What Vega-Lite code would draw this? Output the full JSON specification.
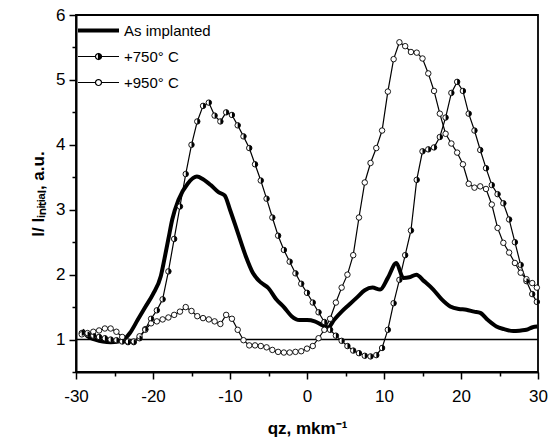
{
  "$schema": "https://vega.github.io/schema/vega-lite/v6.json",
  "width": 462,
  "height": 357,
  "autosize": "none",
  "padding": {"left": 76, "top": 15, "right": 13, "bottom": 69},
  "background": "white",
  "config": {
    "view": {"stroke": "black", "strokeWidth": 1.8},
    "font": "Liberation Sans",
    "axis": {"grid": false, "domainColor": "black", "domainWidth": 2, "tickColor": "black", "tickWidth": 1.5, "labelColor": "black", "labelFont": "Liberation Sans", "labelFontSize": 17, "labelFontWeight": "normal", "titleFont": "Liberation Sans", "titleFontSize": 17, "titleFontWeight": "bold", "titleColor": "black"}
  },
  "data": {"values": [
    {"series": "As implanted", "q": -29.2, "I": 1.15},
    {"series": "As implanted", "q": -28.5, "I": 1.05},
    {"series": "As implanted", "q": -27.5, "I": 1.00},
    {"series": "As implanted", "q": -26.5, "I": 0.97},
    {"series": "As implanted", "q": -25.5, "I": 0.96},
    {"series": "As implanted", "q": -24.5, "I": 0.97},
    {"series": "As implanted", "q": -23.5, "I": 1.03},
    {"series": "As implanted", "q": -23, "I": 1.10},
    {"series": "As implanted", "q": -22, "I": 1.30},
    {"series": "As implanted", "q": -21, "I": 1.50},
    {"series": "As implanted", "q": -20, "I": 1.70},
    {"series": "As implanted", "q": -19, "I": 1.97},
    {"series": "As implanted", "q": -18.5, "I": 2.25},
    {"series": "As implanted", "q": -18, "I": 2.55},
    {"series": "As implanted", "q": -17.5, "I": 2.85},
    {"series": "As implanted", "q": -16.7, "I": 3.15},
    {"series": "As implanted", "q": -15.5, "I": 3.40},
    {"series": "As implanted", "q": -14.3, "I": 3.51},
    {"series": "As implanted", "q": -13.5, "I": 3.47},
    {"series": "As implanted", "q": -12.5, "I": 3.38},
    {"series": "As implanted", "q": -11.5, "I": 3.27},
    {"series": "As implanted", "q": -10.7, "I": 3.22},
    {"series": "As implanted", "q": -10, "I": 3.00},
    {"series": "As implanted", "q": -9, "I": 2.65},
    {"series": "As implanted", "q": -8, "I": 2.30},
    {"series": "As implanted", "q": -7, "I": 2.02},
    {"series": "As implanted", "q": -6, "I": 1.88},
    {"series": "As implanted", "q": -5, "I": 1.79},
    {"series": "As implanted", "q": -4, "I": 1.62},
    {"series": "As implanted", "q": -3, "I": 1.50},
    {"series": "As implanted", "q": -2, "I": 1.36},
    {"series": "As implanted", "q": -1, "I": 1.30},
    {"series": "As implanted", "q": 0, "I": 1.30},
    {"series": "As implanted", "q": 1, "I": 1.28},
    {"series": "As implanted", "q": 2, "I": 1.22},
    {"series": "As implanted", "q": 2.7, "I": 1.18},
    {"series": "As implanted", "q": 3.5, "I": 1.30},
    {"series": "As implanted", "q": 4.5, "I": 1.43},
    {"series": "As implanted", "q": 5.5, "I": 1.54},
    {"series": "As implanted", "q": 6.5, "I": 1.65},
    {"series": "As implanted", "q": 7.5, "I": 1.76},
    {"series": "As implanted", "q": 8.5, "I": 1.80},
    {"series": "As implanted", "q": 9.5, "I": 1.77},
    {"series": "As implanted", "q": 10.5, "I": 1.95},
    {"series": "As implanted", "q": 11.6, "I": 2.18},
    {"series": "As implanted", "q": 12.5, "I": 1.95},
    {"series": "As implanted", "q": 13.3, "I": 1.96},
    {"series": "As implanted", "q": 14.2, "I": 2.00},
    {"series": "As implanted", "q": 15.2, "I": 1.90},
    {"series": "As implanted", "q": 16.4, "I": 1.77},
    {"series": "As implanted", "q": 17.5, "I": 1.62},
    {"series": "As implanted", "q": 18.6, "I": 1.51},
    {"series": "As implanted", "q": 19.7, "I": 1.47},
    {"series": "As implanted", "q": 20.7, "I": 1.46},
    {"series": "As implanted", "q": 21.7, "I": 1.43},
    {"series": "As implanted", "q": 22.5, "I": 1.41},
    {"series": "As implanted", "q": 23.5, "I": 1.30},
    {"series": "As implanted", "q": 24.6, "I": 1.20},
    {"series": "As implanted", "q": 25.6, "I": 1.16},
    {"series": "As implanted", "q": 26.8, "I": 1.13},
    {"series": "As implanted", "q": 27.8, "I": 1.14},
    {"series": "As implanted", "q": 28.5, "I": 1.15},
    {"series": "As implanted", "q": 29.3, "I": 1.19},
    {"series": "As implanted", "q": 29.9, "I": 1.20},

    {"series": "+750° C", "q": -29.25, "I": 1.10},
    {"series": "+750° C", "q": -28.5, "I": 1.08},
    {"series": "+750° C", "q": -27.75, "I": 1.06},
    {"series": "+750° C", "q": -27.0, "I": 1.04},
    {"series": "+750° C", "q": -26.25, "I": 1.02},
    {"series": "+750° C", "q": -25.5, "I": 1.00},
    {"series": "+750° C", "q": -24.75, "I": 0.99},
    {"series": "+750° C", "q": -24.0, "I": 0.97},
    {"series": "+750° C", "q": -23.25, "I": 0.96},
    {"series": "+750° C", "q": -22.5, "I": 0.96},
    {"series": "+750° C", "q": -21.75, "I": 1.02},
    {"series": "+750° C", "q": -21.0, "I": 1.16},
    {"series": "+750° C", "q": -20.25, "I": 1.32},
    {"series": "+750° C", "q": -19.5, "I": 1.45},
    {"series": "+750° C", "q": -18.75, "I": 1.62},
    {"series": "+750° C", "q": -18.0, "I": 2.05},
    {"series": "+750° C", "q": -17.25, "I": 2.55},
    {"series": "+750° C", "q": -16.5, "I": 3.05},
    {"series": "+750° C", "q": -15.75, "I": 3.55},
    {"series": "+750° C", "q": -15.0, "I": 4.00},
    {"series": "+750° C", "q": -14.25, "I": 4.36},
    {"series": "+750° C", "q": -13.5, "I": 4.60},
    {"series": "+750° C", "q": -12.75, "I": 4.65},
    {"series": "+750° C", "q": -12.0, "I": 4.45},
    {"series": "+750° C", "q": -11.25, "I": 4.36},
    {"series": "+750° C", "q": -10.5, "I": 4.50},
    {"series": "+750° C", "q": -9.75, "I": 4.46},
    {"series": "+750° C", "q": -9.0, "I": 4.30},
    {"series": "+750° C", "q": -8.25, "I": 4.13},
    {"series": "+750° C", "q": -7.5, "I": 3.95},
    {"series": "+750° C", "q": -6.75, "I": 3.70},
    {"series": "+750° C", "q": -6.0, "I": 3.45},
    {"series": "+750° C", "q": -5.25, "I": 3.17},
    {"series": "+750° C", "q": -4.5, "I": 2.88},
    {"series": "+750° C", "q": -3.75, "I": 2.60},
    {"series": "+750° C", "q": -3.0, "I": 2.38},
    {"series": "+750° C", "q": -2.25, "I": 2.20},
    {"series": "+750° C", "q": -1.5, "I": 2.02},
    {"series": "+750° C", "q": -0.75, "I": 1.86},
    {"series": "+750° C", "q": 0.0, "I": 1.72},
    {"series": "+750° C", "q": 0.75, "I": 1.57},
    {"series": "+750° C", "q": 1.5, "I": 1.42},
    {"series": "+750° C", "q": 2.25, "I": 1.27},
    {"series": "+750° C", "q": 3.0, "I": 1.15},
    {"series": "+750° C", "q": 3.75, "I": 1.06},
    {"series": "+750° C", "q": 4.5, "I": 0.98},
    {"series": "+750° C", "q": 5.25, "I": 0.90},
    {"series": "+750° C", "q": 6.0, "I": 0.83},
    {"series": "+750° C", "q": 6.75, "I": 0.79},
    {"series": "+750° C", "q": 7.5, "I": 0.75},
    {"series": "+750° C", "q": 8.25, "I": 0.74},
    {"series": "+750° C", "q": 9.0, "I": 0.76},
    {"series": "+750° C", "q": 9.75, "I": 0.87},
    {"series": "+750° C", "q": 10.5, "I": 1.15},
    {"series": "+750° C", "q": 11.25, "I": 1.56},
    {"series": "+750° C", "q": 12.0, "I": 1.92},
    {"series": "+750° C", "q": 12.75, "I": 2.30},
    {"series": "+750° C", "q": 13.5, "I": 2.68},
    {"series": "+750° C", "q": 14.25, "I": 3.46},
    {"series": "+750° C", "q": 15.0, "I": 3.90},
    {"series": "+750° C", "q": 15.75, "I": 3.93},
    {"series": "+750° C", "q": 16.5, "I": 3.96},
    {"series": "+750° C", "q": 17.25, "I": 4.12},
    {"series": "+750° C", "q": 18.0, "I": 4.42},
    {"series": "+750° C", "q": 18.75, "I": 4.80},
    {"series": "+750° C", "q": 19.5, "I": 4.97},
    {"series": "+750° C", "q": 20.25, "I": 4.83},
    {"series": "+750° C", "q": 21.0, "I": 4.48},
    {"series": "+750° C", "q": 21.75, "I": 4.22},
    {"series": "+750° C", "q": 22.5, "I": 3.92},
    {"series": "+750° C", "q": 23.25, "I": 3.64},
    {"series": "+750° C", "q": 24.0, "I": 3.38},
    {"series": "+750° C", "q": 24.75, "I": 3.24},
    {"series": "+750° C", "q": 25.5, "I": 3.10},
    {"series": "+750° C", "q": 26.25, "I": 2.85},
    {"series": "+750° C", "q": 27.0, "I": 2.50},
    {"series": "+750° C", "q": 27.75, "I": 2.15},
    {"series": "+750° C", "q": 28.5, "I": 1.90},
    {"series": "+750° C", "q": 29.25, "I": 1.70},
    {"series": "+750° C", "q": 29.85, "I": 1.58},

    {"series": "+950° C", "q": -29.25, "I": 1.08},
    {"series": "+950° C", "q": -28.5, "I": 1.10},
    {"series": "+950° C", "q": -27.75, "I": 1.12},
    {"series": "+950° C", "q": -27.0, "I": 1.14},
    {"series": "+950° C", "q": -26.25, "I": 1.17},
    {"series": "+950° C", "q": -25.5, "I": 1.17},
    {"series": "+950° C", "q": -24.75, "I": 1.12},
    {"series": "+950° C", "q": -24.0, "I": 1.04},
    {"series": "+950° C", "q": -23.25, "I": 0.97},
    {"series": "+950° C", "q": -22.5, "I": 0.97},
    {"series": "+950° C", "q": -21.75, "I": 1.05},
    {"series": "+950° C", "q": -21.0, "I": 1.15},
    {"series": "+950° C", "q": -20.25, "I": 1.25},
    {"series": "+950° C", "q": -19.5, "I": 1.28},
    {"series": "+950° C", "q": -18.75, "I": 1.31},
    {"series": "+950° C", "q": -18.0, "I": 1.34},
    {"series": "+950° C", "q": -17.25, "I": 1.38},
    {"series": "+950° C", "q": -16.5, "I": 1.43},
    {"series": "+950° C", "q": -15.75, "I": 1.50},
    {"series": "+950° C", "q": -15.0, "I": 1.44},
    {"series": "+950° C", "q": -14.25, "I": 1.36},
    {"series": "+950° C", "q": -13.5, "I": 1.33},
    {"series": "+950° C", "q": -12.75, "I": 1.31},
    {"series": "+950° C", "q": -12.0, "I": 1.28},
    {"series": "+950° C", "q": -11.25, "I": 1.24},
    {"series": "+950° C", "q": -10.5, "I": 1.38},
    {"series": "+950° C", "q": -9.75, "I": 1.32},
    {"series": "+950° C", "q": -9.0, "I": 1.15},
    {"series": "+950° C", "q": -8.25, "I": 0.99},
    {"series": "+950° C", "q": -7.5, "I": 0.91},
    {"series": "+950° C", "q": -6.75, "I": 0.91},
    {"series": "+950° C", "q": -6.0, "I": 0.90},
    {"series": "+950° C", "q": -5.25, "I": 0.88},
    {"series": "+950° C", "q": -4.5, "I": 0.84},
    {"series": "+950° C", "q": -3.75, "I": 0.81},
    {"series": "+950° C", "q": -3.0, "I": 0.80},
    {"series": "+950° C", "q": -2.25, "I": 0.80},
    {"series": "+950° C", "q": -1.5, "I": 0.81},
    {"series": "+950° C", "q": -0.75, "I": 0.82},
    {"series": "+950° C", "q": 0.0, "I": 0.86},
    {"series": "+950° C", "q": 0.75, "I": 0.90},
    {"series": "+950° C", "q": 1.5, "I": 1.02},
    {"series": "+950° C", "q": 2.25, "I": 1.15},
    {"series": "+950° C", "q": 3.0, "I": 1.32},
    {"series": "+950° C", "q": 3.75, "I": 1.57},
    {"series": "+950° C", "q": 4.5, "I": 1.80},
    {"series": "+950° C", "q": 5.25, "I": 2.00},
    {"series": "+950° C", "q": 6.0, "I": 2.30},
    {"series": "+950° C", "q": 6.75, "I": 2.88},
    {"series": "+950° C", "q": 7.5, "I": 3.42},
    {"series": "+950° C", "q": 8.25, "I": 3.72},
    {"series": "+950° C", "q": 9.0, "I": 3.95},
    {"series": "+950° C", "q": 9.75, "I": 4.22},
    {"series": "+950° C", "q": 10.5, "I": 4.82},
    {"series": "+950° C", "q": 11.25, "I": 5.32},
    {"series": "+950° C", "q": 12.0, "I": 5.58},
    {"series": "+950° C", "q": 12.75, "I": 5.52},
    {"series": "+950° C", "q": 13.5, "I": 5.43},
    {"series": "+950° C", "q": 14.25, "I": 5.42},
    {"series": "+950° C", "q": 15.0, "I": 5.33},
    {"series": "+950° C", "q": 15.75, "I": 5.10},
    {"series": "+950° C", "q": 16.5, "I": 4.83},
    {"series": "+950° C", "q": 17.25, "I": 4.48},
    {"series": "+950° C", "q": 18.0, "I": 4.17},
    {"series": "+950° C", "q": 18.75, "I": 4.02},
    {"series": "+950° C", "q": 19.5, "I": 3.88},
    {"series": "+950° C", "q": 20.25, "I": 3.70},
    {"series": "+950° C", "q": 21.0, "I": 3.40},
    {"series": "+950° C", "q": 21.75, "I": 3.34},
    {"series": "+950° C", "q": 22.5, "I": 3.36},
    {"series": "+950° C", "q": 23.25, "I": 3.32},
    {"series": "+950° C", "q": 24.0, "I": 3.08},
    {"series": "+950° C", "q": 24.75, "I": 2.72},
    {"series": "+950° C", "q": 25.5, "I": 2.49},
    {"series": "+950° C", "q": 26.25, "I": 2.34},
    {"series": "+950° C", "q": 27.0, "I": 2.18},
    {"series": "+950° C", "q": 27.75, "I": 2.03},
    {"series": "+950° C", "q": 28.5, "I": 1.93},
    {"series": "+950° C", "q": 29.25, "I": 1.87},
    {"series": "+950° C", "q": 29.85, "I": 1.80}
  ]},
  "encoding": {
    "x": {"field": "q", "type": "quantitative",
      "scale": {"domain": [-30, 30], "nice": false, "zero": false},
      "axis": {"values": [-30, -25, -20, -15, -10, -5, 0, 5, 10, 15, 20, 25, 30],
        "labelExpr": "datum.value % 10 === 0 ? '' + datum.value : ''",
        "tickSize": {"condition": {"test": "datum.value % 10 === 0", "value": 7}, "value": 4},
        "labelPadding": 9, "labelFlush": false,
        "title": "qz, mkm⁻¹", "titlePadding": 16}},
    "y": {"field": "I", "type": "quantitative",
      "scale": {"domain": [0.5, 6], "nice": false, "zero": false},
      "axis": {"values": [0.5, 1, 1.5, 2, 2.5, 3, 3.5, 4, 4.5, 5, 5.5, 6],
        "labelExpr": "datum.value % 1 === 0 ? '' + datum.value : ''",
        "tickSize": {"condition": {"test": "datum.value % 1 === 0", "value": 7}, "value": 4},
        "labelPadding": 4, "labelFlush": false,
        "title": "I/ Iᵢₙᵢₜᵢₐₗ, a.u.", "titlePadding": 8}}
  },
  "layer": [
    {
      "data": {"values": [{"level": 1}]},
      "mark": {"type": "rule", "color": "black", "strokeWidth": 1.6},
      "encoding": {"x": null, "y": {"field": "level", "type": "quantitative"}}
    },
    {
      "transform": [{"filter": "datum.series === 'As implanted'"}],
      "mark": {"type": "line", "strokeWidth": 4, "interpolate": "monotone"},
      "encoding": {
        "color": {"field": "series", "type": "nominal",
          "scale": {"domain": ["As implanted", "+750° C", "+950° C"], "range": ["black", "black", "black"]},
          "legend": {
            "orient": "none", "legendX": 15, "legendY": 8,
            "title": null, "padding": 0,
            "symbolSize": 100, "symbolStrokeWidth": 1.2,
            "labelFont": "Liberation Sans", "labelFontSize": 15, "labelFontWeight": "normal", "labelColor": "black",
            "labelOffset": 18, "rowPadding": 10,
            "encode": {"symbols": {"update": {
              "shape": {"signal": "datum.value === 'As implanted' ? 'M -4.1 0 L 4.1 0' : (datum.value === '+750° C' ? 'M -4.1 0 L -0.6 0 M 0.6 0 L 4.1 0 M 0 -0.6 L 0.23 -0.554 L 0.424 -0.424 L 0.554 -0.23 L 0.6 0 L 0.554 0.23 L 0.424 0.424 L 0.23 0.554 L 0 0.6 L -0.23 0.554 L -0.424 0.424 L -0.554 0.23 L -0.6 0 L -0.554 -0.23 L -0.424 -0.424 L -0.23 -0.554 Z M 0 -0.6 L -0.23 -0.554 L -0.424 -0.424 L -0.554 -0.23 L -0.6 0 L -0.554 0.23 L -0.424 0.424 L -0.23 0.554 L 0 0.6 Z' : 'M -4.1 0 L -0.6 0 M 0.6 0 L 4.1 0 M 0 -0.6 L 0.23 -0.554 L 0.424 -0.424 L 0.554 -0.23 L 0.6 0 L 0.554 0.23 L 0.424 0.424 L 0.23 0.554 L 0 0.6 L -0.23 0.554 L -0.424 0.424 L -0.554 0.23 L -0.6 0 L -0.554 -0.23 L -0.424 -0.424 L -0.23 -0.554 Z')"},
              "strokeWidth": {"signal": "datum.value === 'As implanted' ? 4 : 1.2"},
              "stroke": {"value": "black"},
              "fill": {"signal": "datum.value === '+950° C' ? 'white' : 'black'"},
              "opacity": {"value": 1}
            }}}
          }}
      }
    },
    {
      "transform": [{"filter": "datum.series !== 'As implanted'"}],
      "mark": {"type": "line", "strokeWidth": 1.2},
      "encoding": {"color": {"field": "series", "type": "nominal"}}
    },
    {
      "transform": [{"filter": "datum.series !== 'As implanted'"}],
      "mark": {"type": "point", "shape": "circle", "filled": true, "fill": "white", "stroke": "black", "strokeWidth": 0.9, "size": 30, "opacity": 1}
    },
    {
      "transform": [{"filter": "datum.series === '+750° C'"}],
      "mark": {"type": "point", "shape": "M 0 -1 L 0.38 -0.92 L 0.71 -0.71 L 0.92 -0.38 L 1 0 L 0.92 0.38 L 0.71 0.71 L 0.38 0.92 L 0 1 Z", "filled": true, "fill": "black", "strokeWidth": 0, "size": 30, "opacity": 1}
    }
  ]
}
